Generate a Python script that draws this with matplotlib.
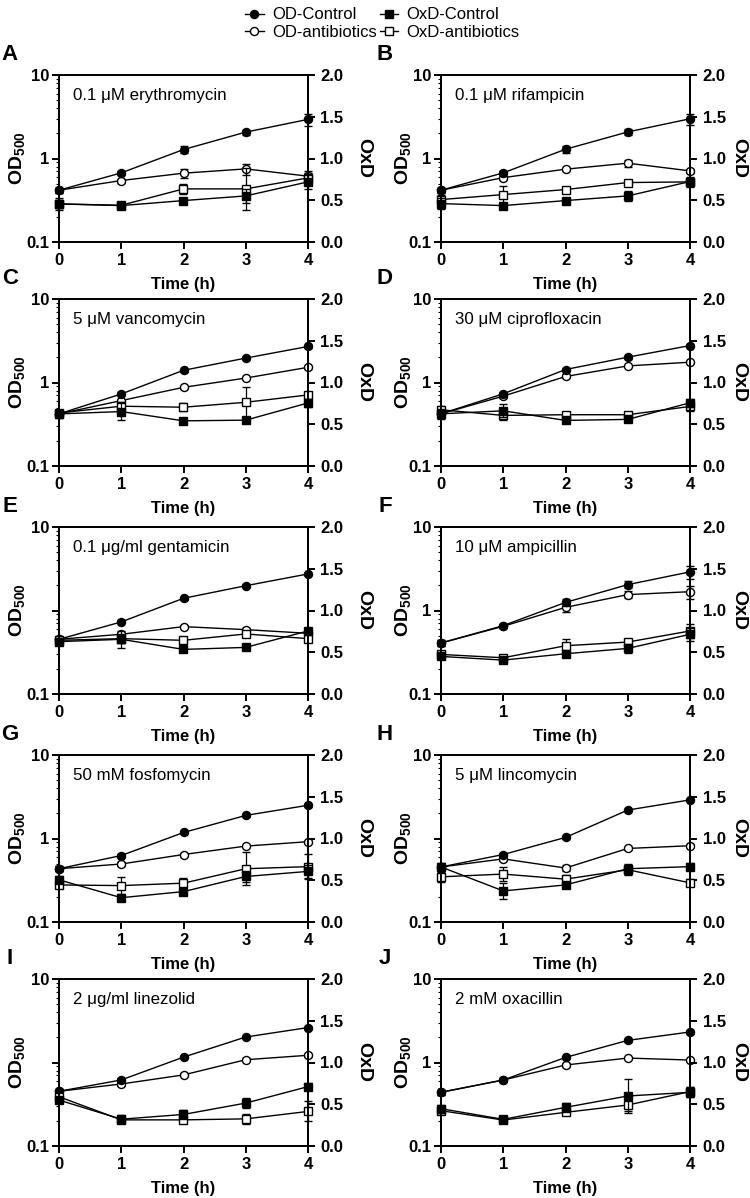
import matplotlib
matplotlib.use('Agg')
import matplotlib.pyplot as plt
from matplotlib.lines import Line2D
from matplotlib.ticker import FixedLocator, LogLocator, NullFormatter

# ---------------- data ----------------
time_h = [0, 1, 2, 3, 4]
panel_letters = ['A', 'B', 'C', 'D', 'E', 'F', 'G', 'H', 'I', 'J']
treatments = ['0.1 μM erythromycin', '0.1 μM rifampicin', '5 μM vancomycin',
              '30 μM ciprofloxacin', '0.1 μg/ml gentamicin', '10 μM ampicillin',
              '50 mM fosfomycin', '5 μM lincomycin', '2 μg/ml linezolid',
              '2 mM oxacillin']
od_ticks = [0.1, 1, 10]
od_ticklabels = ['0.1', '1', '10']
panels_without_od_1_label = ['E', 'H', 'I']
oxd_ticks = [0.0, 0.5, 1.0, 1.5, 2.0]

od_control = [
    [0.417, 0.673, 1.28, 2.07, 2.94],
    [0.417, 0.673, 1.29, 2.08, 2.99],
    [0.421, 0.729, 1.40, 1.96, 2.70],
    [0.422, 0.732, 1.43, 2.01, 2.77],
    [0.452, 0.730, 1.40, 1.98, 2.74],
    [0.408, 0.659, 1.25, 2.04, 2.90],
    [0.435, 0.625, 1.18, 1.89, 2.50],
    [0.456, 0.643, 1.03, 2.19, 2.90],
    [0.452, 0.618, 1.16, 2.02, 2.62],
    [0.440, 0.617, 1.15, 1.84, 2.32],
]
od_antibiotics = [
    [0.417, 0.545, 0.667, 0.751, 0.614],
    [0.417, 0.590, 0.745, 0.879, 0.711],
    [0.421, 0.607, 0.875, 1.13, 1.52],
    [0.422, 0.687, 1.18, 1.58, 1.75],
    [0.452, 0.519, 0.641, 0.590, 0.533],
    [0.408, 0.647, 1.09, 1.55, 1.68],
    [0.435, 0.495, 0.643, 0.811, 0.916],
    [0.456, 0.570, 0.443, 0.760, 0.819],
    [0.452, 0.553, 0.710, 1.08, 1.22],
    [0.440, 0.617, 0.933, 1.13, 1.07],
]
oxd_control = [
    [0.456, 0.436, 0.496, 0.552, 0.720],
    [0.460, 0.436, 0.496, 0.552, 0.724],
    [0.624, 0.652, 0.541, 0.549, 0.755],
    [0.625, 0.661, 0.546, 0.558, 0.757],
    [0.627, 0.655, 0.534, 0.558, 0.755],
    [0.450, 0.406, 0.482, 0.546, 0.715],
    [0.505, 0.291, 0.364, 0.545, 0.606],
    [0.659, 0.372, 0.444, 0.638, 0.663],
    [0.550, 0.321, 0.378, 0.514, 0.711],
    [0.447, 0.319, 0.463, 0.599, 0.643],
]
oxd_antibiotics = [
    [0.456, 0.440, 0.636, 0.636, 0.768],
    [0.508, 0.568, 0.628, 0.712, 0.720],
    [0.636, 0.716, 0.704, 0.763, 0.851],
    [0.673, 0.606, 0.614, 0.614, 0.713],
    [0.643, 0.663, 0.643, 0.719, 0.663],
    [0.474, 0.434, 0.578, 0.622, 0.755],
    [0.444, 0.436, 0.465, 0.638, 0.663],
    [0.541, 0.574, 0.513, 0.626, 0.469],
    [0.590, 0.313, 0.313, 0.325, 0.414],
    [0.423, 0.311, 0.403, 0.491, 0.651],
]
od_control_err = [
    [0.03, 0.03, 0.12, 0.15, 0.50],
    [0.03, 0.03, 0.12, 0.15, 0.45],
    [0.03, 0.03, 0.05, 0.08, 0.10],
    [0.03, 0.03, 0.05, 0.08, 0.10],
    [0.03, 0.03, 0.05, 0.08, 0.10],
    [0.03, 0.03, 0.12, 0.20, 0.50],
    [0.03, 0.03, 0.05, 0.08, 0.10],
    [0.03, 0.03, 0.04, 0.08, 0.10],
    [0.03, 0.03, 0.04, 0.08, 0.10],
    [0.03, 0.03, 0.04, 0.08, 0.10],
]
od_antibiotics_err = [
    [0.03, 0.03, 0.08, 0.12, 0.06],
    [0.03, 0.03, 0.03, 0.08, 0.04],
    [0.03, 0.03, 0.03, 0.04, 0.05],
    [0.03, 0.04, 0.04, 0.06, 0.06],
    [0.03, 0.04, 0.03, 0.03, 0.04],
    [0.03, 0.03, 0.12, 0.15, 0.30],
    [0.03, 0.03, 0.03, 0.03, 0.03],
    [0.03, 0.03, 0.04, 0.03, 0.03],
    [0.03, 0.03, 0.03, 0.05, 0.05],
    [0.03, 0.02, 0.04, 0.04, 0.04],
]
oxd_control_err = [
    [0.07, 0.02, 0.03, 0.08, 0.08],
    [0.07, 0.02, 0.02, 0.06, 0.06],
    [0.05, 0.10, 0.02, 0.03, 0.05],
    [0.06, 0.08, 0.02, 0.02, 0.05],
    [0.04, 0.10, 0.02, 0.02, 0.04],
    [0.03, 0.02, 0.03, 0.05, 0.08],
    [0.04, 0.02, 0.04, 0.06, 0.08],
    [0.05, 0.10, 0.04, 0.06, 0.04],
    [0.04, 0.05, 0.05, 0.06, 0.04],
    [0.05, 0.03, 0.05, 0.20, 0.06],
]
oxd_antibiotics_err = [
    [0.05, 0.03, 0.06, 0.25, 0.08],
    [0.05, 0.10, 0.03, 0.03, 0.04],
    [0.04, 0.05, 0.05, 0.18, 0.03],
    [0.05, 0.06, 0.03, 0.03, 0.05],
    [0.04, 0.05, 0.03, 0.04, 0.04],
    [0.04, 0.02, 0.08, 0.04, 0.08],
    [0.04, 0.10, 0.06, 0.20, 0.15],
    [0.06, 0.08, 0.05, 0.06, 0.04],
    [0.04, 0.04, 0.04, 0.06, 0.12],
    [0.04, 0.02, 0.03, 0.07, 0.06],
]

# ---------------- style ----------------
plt.rcParams['font.family'] = ['Liberation Sans', 'DejaVu Sans']
plt.rcParams['mathtext.fontset'] = 'custom'
plt.rcParams['mathtext.rm'] = 'Liberation Sans:bold'
plt.rcParams['mathtext.bf'] = 'Liberation Sans:bold'
plt.rcParams['mathtext.default'] = 'bf'

W, H = 750, 1198
fig = plt.figure(figsize=(W / 100, H / 100), dpi=100)

col_left = [59, 441]
ax_w = 249
row_top = [75, 299, 527, 755, 979]
ax_h = 167

lw = 1.0
ms = 5.8
spine_w = 1.4
tick_fs = 12
label_fs = 12


def draw_series(ax, y, err, marker, filled):
    ax.errorbar(time_h, y, yerr=err, color='black', lw=lw, marker=marker,
                markersize=ms, markerfacecolor='black' if filled else 'white',
                markeredgecolor='black', markeredgewidth=1.0,
                ecolor='black', elinewidth=0.9, capsize=3, capthick=0.9,
                clip_on=False, zorder=3 if filled else 2)


for i, letter in enumerate(panel_letters):
    r, c = divmod(i, 2)
    left = col_left[c] / W
    bottom = 1 - (row_top[r] + ax_h) / H
    ax = fig.add_axes([left, bottom, ax_w / W, ax_h / H])
    ax2 = ax.twinx()

    # OD on log axis (circles)
    draw_series(ax, od_antibiotics[i], od_antibiotics_err[i], 'o', False)
    draw_series(ax, od_control[i], od_control_err[i], 'o', True)
    # OxD on linear axis (squares)
    draw_series(ax2, oxd_antibiotics[i], oxd_antibiotics_err[i], 's', False)
    draw_series(ax2, oxd_control[i], oxd_control_err[i], 's', True)

    ax.set_yscale('log')
    ax.set_ylim(0.1, 10)
    ax.set_xlim(0, 4)
    ax.yaxis.set_major_locator(FixedLocator(od_ticks))
    labels = list(od_ticklabels)
    if letter in panels_without_od_1_label:
        labels[1] = ''
    ax.set_yticklabels(labels)
    ax.yaxis.set_minor_locator(LogLocator(base=10, subs=range(2, 10)))
    ax.yaxis.set_minor_formatter(NullFormatter())
    ax.set_xticks(time_h)
    ax.set_xticklabels([str(t) for t in time_h])

    ax2.set_ylim(0, 2.0)
    ax2.set_yticks(oxd_ticks)
    ax2.set_yticklabels(['%.1f' % v for v in oxd_ticks])

    for a in (ax, ax2):
        for s in a.spines.values():
            s.set_linewidth(spine_w)
        a.tick_params(which='major', direction='out', length=5, width=spine_w,
                      labelsize=tick_fs, pad=2)
        for lab in a.get_xticklabels() + a.get_yticklabels():
            lab.set_fontweight('bold')
    ax.tick_params(which='minor', direction='out', length=2.5, width=0.8)
    ax.tick_params(axis='x', pad=3)
    ax2.tick_params(axis='y', pad=4)

    ax.set_xlabel('Time (h)', fontsize=label_fs, fontweight='bold', va='center')
    ax.xaxis.set_label_coords(0.5, -0.255)
    ax.set_ylabel(r'OD$_{500}$', fontsize=14, fontweight='bold', va='center')
    ax.yaxis.set_label_coords(-0.169 if c == 0 else -0.153, 0.5)
    ax2.set_ylabel('OxD', fontsize=14, fontweight='bold', rotation=270,
                   va='center')
    ax2.yaxis.set_label_coords(1.225 if c == 0 else 1.195, 0.5)

    ax.text(0.055, 0.875, treatments[i], transform=ax.transAxes, fontsize=12.2,
            ha='left', va='center')

    fig.text((10 + 375 * c) / W, 1 - (row_top[r] - 20) / H, letter,
             fontsize=16, fontweight='bold', ha='center', va='center')

# legend
handles = [
    Line2D([], [], color='black', lw=lw, marker='o', markersize=ms,
           markerfacecolor='black', markeredgecolor='black'),
    Line2D([], [], color='black', lw=lw, marker='o', markersize=ms,
           markerfacecolor='white', markeredgecolor='black'),
    Line2D([], [], color='black', lw=lw, marker='s', markersize=ms,
           markerfacecolor='black', markeredgecolor='black'),
    Line2D([], [], color='black', lw=lw, marker='s', markersize=ms,
           markerfacecolor='white', markeredgecolor='black'),
]
leg_labels = ['OD-Control', 'OD-antibiotics', 'OxD-Control', 'OxD-antibiotics']
fig.legend(handles, leg_labels, loc='upper center', bbox_to_anchor=(0.51, 1.0),
           ncol=2, frameon=False, fontsize=12, handlelength=1.1,
           handletextpad=0.5, columnspacing=0.2, labelspacing=0.15,
           borderaxespad=0.05)

fig.savefig('out.png', dpi=100)
